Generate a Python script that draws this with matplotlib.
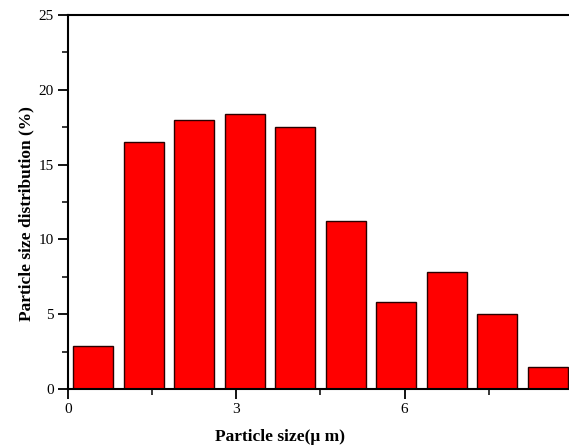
import matplotlib
matplotlib.use("Agg")
import matplotlib.pyplot as plt
from matplotlib.ticker import FixedLocator, MultipleLocator

# Particle size distribution histogram (bin centers in μm, share in %)
bin_centers = [0.45, 1.35, 2.25, 3.15, 4.05, 4.95, 5.85, 6.75, 7.65, 8.55]
distribution = [2.9, 16.5, 18.0, 18.4, 17.5, 11.2, 5.8, 7.8, 5.0, 1.5]
bar_width = 0.72

x_major_ticks = [0, 3, 6]
x_minor_ticks = [1.5, 4.5, 7.5]

x_label = "Particle size(μ m)"
y_label = "Particle size distribution (%)"

plt.rcParams["font.family"] = ["Liberation Serif", "DejaVu Serif"]

fig = plt.figure(figsize=(5.69, 4.48), dpi=100)
ax = fig.add_axes([0.1195, 0.1317, 0.8875, 0.835])

ax.bar(bin_centers, distribution, width=bar_width, color="#ff0000",
       edgecolor="#2a0000", linewidth=1.0, zorder=2)

ax.set_xlim(0, 9)
ax.set_ylim(0, 25)
ax.xaxis.set_major_locator(FixedLocator(x_major_ticks))
ax.xaxis.set_minor_locator(FixedLocator(x_minor_ticks))
ax.yaxis.set_major_locator(MultipleLocator(5))
ax.yaxis.set_minor_locator(MultipleLocator(2.5))

for side in ["left", "bottom", "top"]:
    ax.spines[side].set_linewidth(1.5)
ax.spines["right"].set_visible(False)

ax.tick_params(axis="both", which="major", direction="out", length=7,
               width=1.3, labelsize=11, pad=3)
ax.tick_params(axis="both", which="minor", direction="out", length=4,
               width=1.1)

ax.set_xlabel(x_label, fontsize=12.5, fontweight="bold", labelpad=9.5)
ax.set_ylabel(y_label, fontsize=12.5, fontweight="bold", labelpad=3)
# shift the axis titles along their axes
ax.xaxis.label.set_x(0.42)
ax.yaxis.label.set_y(0.468)

fig.savefig("out.png", dpi=100)
